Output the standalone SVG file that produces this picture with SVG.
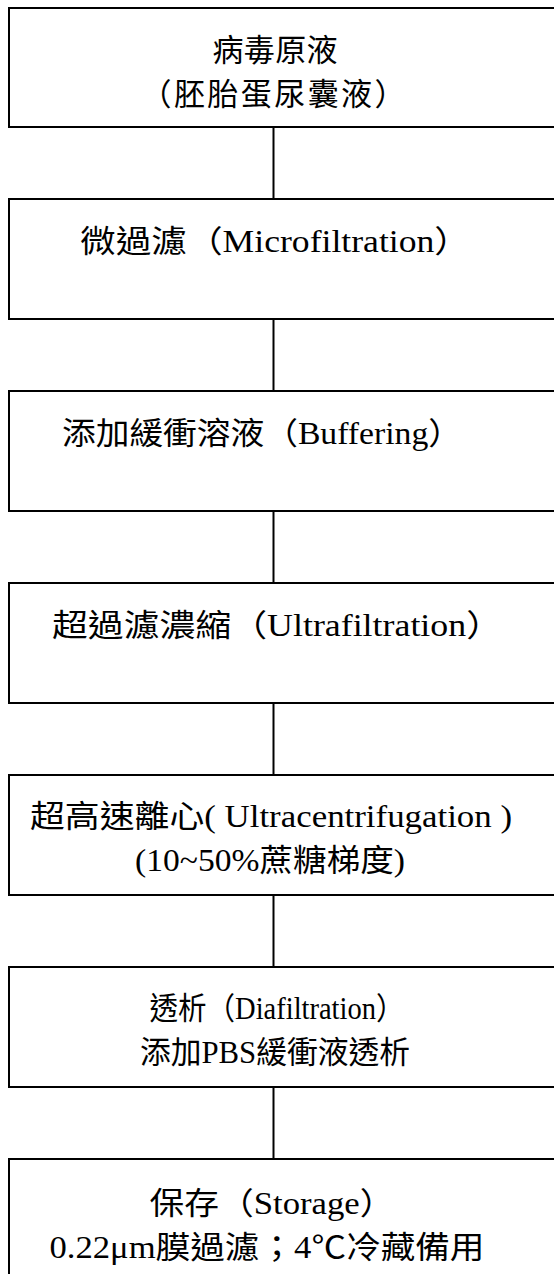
<svg xmlns="http://www.w3.org/2000/svg" width="554" height="1274" viewBox="0 0 554 1274">
<style>
.box{fill:#fff;stroke:#000;stroke-width:2}
.conn line{stroke:#000;stroke-width:2}
text{font-family:"Liberation Serif","Noto Sans CJK TC",serif;font-size:31px;fill:#000;text-anchor:middle}
</style>
<rect x="0" y="0" width="554" height="1274" fill="#fff"/>
<g class="conn">
<line x1="273.5" y1="127" x2="273.5" y2="199"/>
<line x1="273.5" y1="319" x2="273.5" y2="391"/>
<line x1="273.5" y1="511" x2="273.5" y2="583"/>
<line x1="273.5" y1="703" x2="273.5" y2="775"/>
<line x1="273.5" y1="895" x2="273.5" y2="967"/>
<line x1="273.5" y1="1087" x2="273.5" y2="1159"/>
</g>
<g id="n1"><rect class="box" x="9" y="8" width="552" height="119"/>
<text x="275" y="61" textLength="125" lengthAdjust="spacing">病毒原液</text>
<text x="273" y="105" textLength="265" lengthAdjust="spacing">（胚胎蛋尿囊液）</text></g>
<g id="n2"><rect class="box" x="9" y="199" width="552" height="120"/>
<text x="275" y="252" textLength="390" lengthAdjust="spacingAndGlyphs">微過濾（Microfiltration）</text></g>
<g id="n3"><rect class="box" x="9" y="391" width="552" height="120"/>
<text x="262" y="444" textLength="400" lengthAdjust="spacingAndGlyphs">添加緩衝溶液（Buffering）</text></g>
<g id="n4"><rect class="box" x="9" y="583" width="552" height="120"/>
<text x="277" y="636" textLength="450" lengthAdjust="spacingAndGlyphs">超過濾濃縮（Ultrafiltration）</text></g>
<g id="n5"><rect class="box" x="9" y="775" width="552" height="120"/>
<text x="271" y="827" textLength="482" lengthAdjust="spacingAndGlyphs">超高速離心( Ultracentrifugation )</text>
<text x="270" y="871" textLength="270" lengthAdjust="spacingAndGlyphs">(10~50%蔗糖梯度)</text></g>
<g id="n6"><rect class="box" x="9" y="967" width="552" height="120"/>
<text x="277" y="1019" textLength="255" lengthAdjust="spacingAndGlyphs">透析（Diafiltration）</text>
<text x="275" y="1063" textLength="270" lengthAdjust="spacingAndGlyphs">添加PBS緩衝液透析</text></g>
<g id="n7"><rect class="box" x="9" y="1159" width="552" height="125"/>
<text x="272" y="1214" textLength="245" lengthAdjust="spacingAndGlyphs">保存（Storage）</text>
<text x="267" y="1258" textLength="435" lengthAdjust="spacingAndGlyphs">0.22μm膜過濾；4℃冷藏備用</text></g>
</svg>
